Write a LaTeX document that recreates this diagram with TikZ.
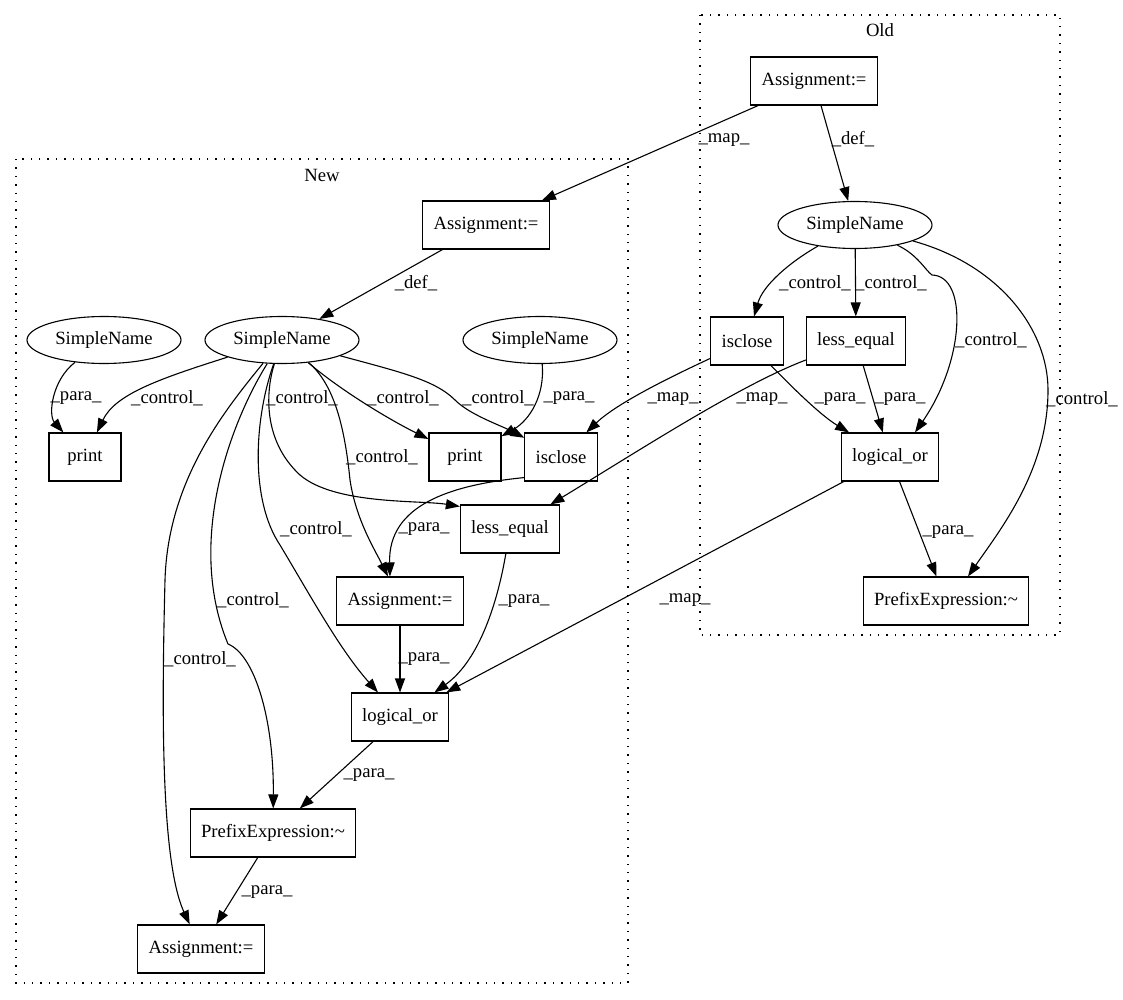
\documentclass[tikz,border=0pt]{standalone}
\usepackage{fontspec}
\setmainfont{Liberation Serif}
\usetikzlibrary{arrows.meta,shapes.geometric}
\begin{document}
\begin{tikzpicture}[->,>={Triangle[length=14pt,width=10pt]},x=1pt,y=-1pt,
  line width=1.1pt,font=\fontsize{18.67}{22}\selectfont,
  box node/.style={rectangle,draw,minimum height=48pt,minimum width=72pt,inner xsep=10.7pt},
  name node/.style={ellipse,draw,minimum width=154pt,minimum height=47pt,inner sep=0pt},
  cluster/.style={-,draw,line width=1.4pt,dash pattern=on 1.4pt off 7pt},
  lbl/.style={inner sep=0pt}]

  \useasboundingbox (0,0) rectangle (1123,1000);

  \draw[cluster] (700,15) rectangle (1060,635);
  \node (oldTitle) at (880,30) {Old};
  \draw[cluster] (16,159) rectangle (628,983);
  \node (newTitle) at (322,175) {New};

  \node[box node] (oldAssign) at (814,81) {Assignment:=};
  \node[name node] (oldName) at (855,225) {SimpleName};
  \node[box node] (oldIsclose) at (747,341) {isclose};
  \node[box node] (oldLess) at (856,341) {less\_equal};
  \node[box node] (oldOr) at (890,457) {logical\_or};
  \node[box node] (oldPrefix) at (946,601) {PrefixExpression:\textasciitilde};

  \node[box node] (newAssign) at (486,225) {Assignment:=};
  \node[name node] (newName) at (282,340) {SimpleName};
  \node[name node] (leftName) at (104,340) {SimpleName};
  \node[name node] (rightName) at (540,340) {SimpleName};
  \node[box node] (leftPrint) at (85,457) {print};
  \node[box node] (midPrint) at (465,457) {print};
  \node[box node] (newIsclose) at (561,457) {isclose};
  \node[box node] (newLess) at (510,529) {less\_equal};
  \node[box node] (midAssign) at (400,601) {Assignment:=};
  \node[box node] (newOr) at (400,717) {logical\_or};
  \node[box node] (newPrefix) at (273,833) {PrefixExpression:\textasciitilde};
  \node[box node] (endAssign) at (201,949) {Assignment:=};

  \draw (oldAssign) -- (newAssign) node[lbl] at (724,140) {\_map\_};
  \draw (oldAssign) -- (oldName) node[lbl] at (853,139) {\_def\_};
  \draw (oldName) .. controls (790,262) and (763,285) .. (oldIsclose) node[lbl] at (815,283) {\_control\_};
  \draw (oldName) -- (oldLess) node[lbl] at (891,283) {\_control\_};
  \draw (oldName) .. controls (918,255) and (925,270) .. (932,275) .. controls (968,276) and (965,360) .. ([xshift=25pt]oldOr.north) node[lbl] at (991,340) {\_control\_};
  \draw (oldName) .. controls (1000,265) and (1048,330) .. (1048,390) .. controls (1048,470) and (1000,530) .. ([xshift=22pt]oldPrefix.north) node[lbl] at (1082,399) {\_control\_};
  \draw (oldIsclose) .. controls (790,385) and (820,415) .. (oldOr) node[lbl] at (840,399) {\_para\_};
  \draw (oldLess) -- (oldOr) node[lbl] at (900,399) {\_para\_};
  \draw (oldOr) -- (oldPrefix) node[lbl] at (948,532) {\_para\_};
  \draw (oldIsclose) .. controls (690,368) and (620,400) .. (newIsclose) node[lbl] at (673,399) {\_map\_};
  \draw (oldLess) .. controls (740,385) and (640,450) .. (newLess) node[lbl] at (762,399) {\_map\_};
  \draw (oldOr) -- (newOr) node[lbl] at (685,600) {\_map\_};

  \draw (newAssign) -- (newName) node[lbl] at (416,283) {\_def\_};
  \draw (leftName) .. controls (52,380) and (48,415) .. (leftPrint) node[lbl] at (76,398) {\_para\_};
  \draw (newName) .. controls (155,380) and (115,395) .. (leftPrint) node[lbl] at (167,398) {\_control\_};
  \draw (newName) .. controls (340,390) and (390,420) .. (midPrint) node[lbl] at (403,398) {\_control\_};
  \draw (newName) .. controls (400,372) and (435,380) .. (455,400) .. controls (470,415) and (500,425) .. (newIsclose) node[lbl] at (498,398) {\_control\_};
  \draw (rightName) .. controls (545,395) and (530,420) .. (midPrint) node[lbl] at (569,398) {\_para\_};
  \draw (newName) .. controls (335,385) and (345,430) .. (350,480) .. controls (356,520) and (375,550) .. (midAssign) node[lbl] at (382,457) {\_control\_};
  \draw (newName) .. controls (266,390) and (262,440) .. (300,475) .. controls (335,505) and (420,500) .. ([yshift=-2pt]newLess.north west) node[lbl] at (302,398) {\_control\_};
  \draw (newName) .. controls (254,420) and (250,500) .. (280,545) .. controls (310,595) and (340,650) .. (newOr) node[lbl] at (316,529) {\_control\_};
  \draw (newName) .. controls (232,420) and (185,540) .. (228,644) .. controls (255,655) and (274,720) .. (newPrefix) node[lbl] at (253,600) {\_control\_};
  \draw (newName) .. controls (225,410) and (168,480) .. (165,580) .. controls (162,700) and (160,860) .. (endAssign) node[lbl] at (200,659) {\_control\_};
  \draw ([yshift=4pt]newIsclose.south west) .. controls (450,485) and (388,505) .. ([xshift=-10pt]midAssign.north) node[lbl] at (424,529) {\_para\_};
  \draw (newLess) .. controls (498,600) and (480,660) .. (newOr) node[lbl] at (524,601) {\_para\_};
  \draw (midAssign) -- (newOr) node[lbl] at (424,659) {\_para\_};
  \draw (newOr) -- (newPrefix) node[lbl] at (369,775) {\_para\_};
  \draw (newPrefix) -- (endAssign) node[lbl] at (267,892) {\_para\_};
\end{tikzpicture}
\end{document}
